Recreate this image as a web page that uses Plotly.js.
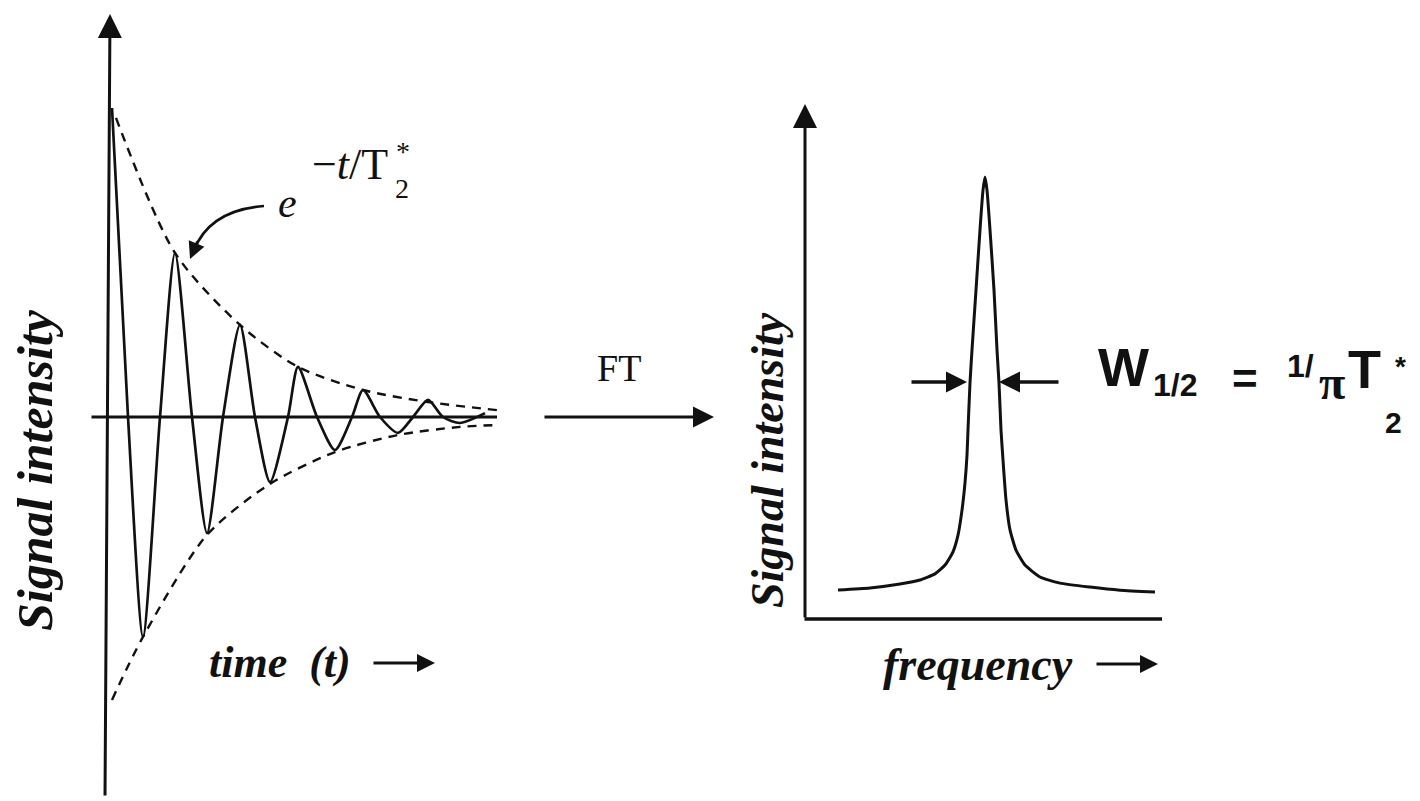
<!DOCTYPE html>
<html>
<head>
<meta charset="utf-8">
<script src="https://cdn.plot.ly/plotly-3.0.1.min.js"></script>
<style>html,body{margin:0;padding:0;background:#fff;}#chart{width:1420px;height:801px;}</style>
</head>
<body>
<div id="chart"></div>
<script>
// ---- Data ----
// Free induction decay (time in arbitrary units, signal relative to the start)
const fidTime   = [0.1, 0.5, 0.875, 1.3, 1.675, 2.1, 2.475, 2.875, 3.3, 3.675, 4.05, 4.5, 4.75, 5.225, 5.675, 6.1, 6.375, 6.8, 7.25, 7.625, 8.0, 8.375, 8.8, 9.425];
const fidSignal = [1.03, 0, -0.733, 0, 0.547, 0, -0.387, 0, 0.307, 0, -0.217, 0, 0.167, 0, -0.11, 0, 0.09, 0, -0.053, 0, 0.057, 0, -0.02, 0.013];
// Exponential envelope e^{-t/T2*}
const envUpperTime   = [0.2, 1.675, 3.3, 4.75, 6.375, 8.0, 9.725];
const envUpperSignal = [0.997, 0.547, 0.307, 0.167, 0.09, 0.05, 0.023];
const envLowerTime   = [0.1, 0.875, 2.475, 4.05, 5.675, 7.25, 8.8, 9.725];
const envLowerSignal = [-0.943, -0.733, -0.393, -0.223, -0.117, -0.06, -0.033, -0.027];
// Lorentzian line after Fourier transform
const freq      = [-7.35, -5.75, -4.25, -3.25, -2.5, -2.0, -1.6, -1.35, -1.15, -1.0, -0.9, -0.85, -0.75, -0.65, -0.45, -0.25, -0.1, 0,
                   0.1, 0.25, 0.45, 0.6, 0.7, 0.8, 0.9, 1.05, 1.25, 1.55, 2.0, 2.75, 3.75, 5.25, 6.75, 8.5];
const intensity = [0.614, 0.66, 0.75, 0.84, 0.98, 1.18, 1.48, 1.86, 2.43, 3.05, 3.68, 4.25, 5.32, 6.07, 7.43, 8.8, 9.7, 10,
                   9.7, 8.8, 7.43, 6.07, 5.32, 4.25, 3.57, 2.66, 1.98, 1.52, 1.18, 0.91, 0.77, 0.68, 0.61, 0.57];
// Text
const leftYLabel = "Signal intensity";
const rightYLabel = "Signal intensity";
const leftXLabel = "time  (t)";
const rightXLabel = "frequency";
const ftLabel = "FT";

// ---- Layout helpers (pixel -> paper) ----
const W = 1420, H = 801;
const px = x => x / W;
const py = y => 1 - y / H;
const ink = '#111';

const traces = [
  {x: envUpperTime, y: envUpperSignal, xaxis: 'x', yaxis: 'y', mode: 'lines',
   line: {color: ink, width: 2.4, dash: '9px,7px', shape: 'spline', smoothing: 0.8}},
  {x: envLowerTime, y: envLowerSignal, xaxis: 'x', yaxis: 'y', mode: 'lines',
   line: {color: ink, width: 2.4, dash: '9px,7px', shape: 'spline', smoothing: 0.8}},
  {x: fidTime, y: fidSignal, xaxis: 'x', yaxis: 'y', mode: 'lines',
   line: {color: ink, width: 2.7, shape: 'spline', smoothing: 0.7}},
  {x: freq, y: intensity, xaxis: 'x2', yaxis: 'y2', mode: 'lines',
   line: {color: ink, width: 3, shape: 'spline', smoothing: 0.5}}
];

const hidden = {showgrid: false, zeroline: false, showline: false, showticklabels: false, ticks: '', fixedrange: true};

function txt(text, x, y, size, opts) {
  return Object.assign({text: text, x: px(x), y: py(y), xref: 'paper', yref: 'paper',
    showarrow: false, xanchor: 'center', yanchor: 'middle',
    font: {family: 'Liberation Serif', size: size, color: ink}}, opts || {});
}
function sans(text, x, y, size) {
  return txt(text, x, y, size, {font: {family: 'Liberation Sans', size: size, color: ink}});
}
function arrow(x0, y0, x1, y1, width, head, size) {
  return {x: px(x1), y: py(y1), xref: 'paper', yref: 'paper', text: '',
    showarrow: true, axref: 'pixel', ayref: 'pixel', ax: x0 - x1, ay: y0 - y1,
    arrowhead: head, arrowsize: size, arrowwidth: width, arrowcolor: ink, standoff: 0, startstandoff: 0};
}

const annotations = [
  // axes of left panel
  arrow(105, 797, 110, 14, 3, 2, 1.6),
  arrow(90, 417, 497, 417, 3, 0, 1),
  // axes of right panel
  arrow(805, 619, 805, 104, 3, 2, 1.6),
  arrow(803, 619, 1162, 619, 3.5, 0, 1),
  // FT arrow
  arrow(543, 417, 714, 417, 3, 2, 1.4),
  // axis label arrows
  arrow(372, 663, 435, 663, 3, 2, 1.2),
  arrow(1095, 664, 1158, 664, 3, 2, 1.2),
  // half-width arrows
  arrow(910, 382, 967, 382, 3.5, 2, 1.2),
  arrow(1060, 382, 999, 382, 3.5, 2, 1.2),
  // curved arrow head
  arrow(198, 240, 190, 259, 2.6, 2, 1.3),
  // texts
  txt('<b><i>' + leftYLabel + '</i></b>', 35, 470, 50, {textangle: -90}),
  txt('<b><i>' + rightYLabel + '</i></b>', 768, 460, 46, {textangle: -90}),
  txt('<b><i>' + leftXLabel + '</i></b>', 280, 662, 44),
  txt('<b><i>' + rightXLabel + '</i></b>', 978, 664, 46),
  txt(ftLabel, 619, 368, 38),
  txt('<i>e</i>', 287, 203, 42),
  txt('−<i>t</i>/T', 350, 164, 44),
  txt('2', 402, 188, 28),
  txt('*', 403, 151, 28),
  sans('<b>W</b>', 1123, 367, 54),
  sans('<b>1/2</b>', 1175, 385, 32),
  sans('<b>=</b>', 1245, 378, 44),
  sans('<b>1/</b>', 1300, 366, 32),
  txt('<b>π</b>', 1332, 382, 48),
  sans('<b>T</b>', 1364, 369, 54),
  sans('<b>2</b>', 1393, 423, 30),
  sans('<b>*</b>', 1400, 366, 28)
];

// curved pointer from the envelope label to the second peak
const curve = 'M ' + px(264) + ',' + py(206) + ' Q ' + px(210) + ',' + py(210) + ' ' + px(194) + ',' + py(250);

const layout = {
  width: W, height: H,
  margin: {l: 0, r: 0, t: 0, b: 0, pad: 0},
  paper_bgcolor: '#fff', plot_bgcolor: 'rgba(0,0,0,0)',
  showlegend: false,
  xaxis: Object.assign({domain: [px(85), px(505)], range: [-0.575, 9.925], anchor: 'y'}, hidden),
  yaxis: Object.assign({domain: [py(800), py(10)], range: [-1.2767, 1.3567], anchor: 'x'}, hidden),
  xaxis2: Object.assign({domain: [px(800), px(1170)], range: [-9.25, 9.25], anchor: 'y2'}, hidden),
  yaxis2: Object.assign({domain: [py(620), py(100)], range: [-3 / 44, 517 / 44], anchor: 'x2'}, hidden),
  annotations: annotations,
  shapes: [{type: 'path', path: curve, xref: 'paper', yref: 'paper', line: {color: ink, width: 2.6}}]
};

Plotly.newPlot('chart', traces, layout, {staticPlot: true, displayModeBar: false});
</script>
</body>
</html>
